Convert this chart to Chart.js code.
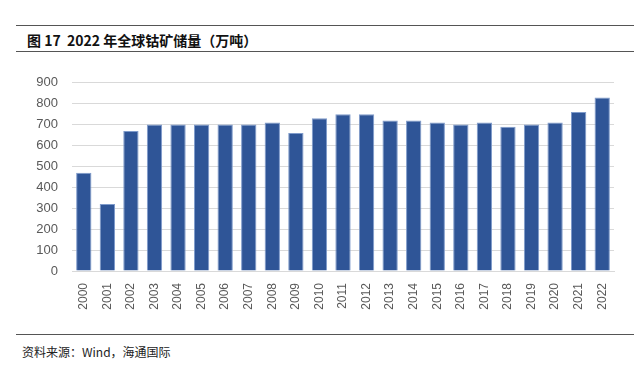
<!DOCTYPE html>
<html>
<head>
<meta charset="utf-8">
<script src="https://cdn.jsdelivr.net/npm/chart.js@4/dist/chart.umd.min.js"></script>
<style>
  body { margin: 0; background: #fff; font-family: "Noto Sans CJK SC", "Noto Sans", sans-serif; }
  #wrap { position: relative; width: 634px; height: 366px; overflow: hidden; }
  .rule { position: absolute; left: 16px; right: 0; height: 0; border-top: 1px solid #555; }
  #title { position: absolute; left: 27px; top: 30px; font-size: 14px; font-weight: bold; color: #111; }
  #src { position: absolute; left: 22px; top: 343px; font-size: 12px; color: #222; }
  #box { position: absolute; left: 0; top: 61px; width: 634px; height: 270px; }
</style>
</head>
<body>
<div id="wrap">
  <div class="rule" style="top:25px"></div>
  <div id="title">图 17&nbsp; 2022 年全球钴矿储量（万吨）</div>
  <div class="rule" style="top:51px"></div>
  <div id="box"><canvas id="reserves"></canvas></div>
  <div class="rule" style="top:334px"></div>
  <div id="src">资料来源：Wind，海通国际</div>
</div>
<script>
// years and reserve values (万吨)
var years = ['2000','2001','2002','2003','2004','2005','2006','2007','2008','2009','2010','2011',
             '2012','2013','2014','2015','2016','2017','2018','2019','2020','2021','2022'];
var reserves = [470, 320, 670, 700, 700, 700, 700, 700, 710, 660, 730, 750,
                750, 720, 720, 710, 700, 710, 690, 700, 710, 760, 830];
var yTicks = [0, 100, 200, 300, 400, 500, 600, 700, 800, 900];

var chart = new Chart('reserves', {
  type: 'bar',
  data: {
    labels: years,
    datasets: [{
      data: reserves,
      backgroundColor: '#2f5597',
      borderColor: '#7f9bcb',
      borderWidth: 1,
      categoryPercentage: 1,
      barPercentage: 0.65
    }]
  },
  options: {
    responsive: true,
    maintainAspectRatio: false,
    animation: false,
    layout: { padding: { top: 21, right: 20, bottom: 0, left: 0 } },
    plugins: { legend: { display: false }, tooltip: { enabled: false } },
    scales: {
      x: {
        grid: { display: false },
        border: { color: '#d9d9d9' },
        ticks: {
          color: '#595959',
          font: { family: 'Liberation Sans, DejaVu Sans', size: 12 },
          maxRotation: 90,
          minRotation: 90,
          padding: 4
        },
        afterFit: function(s) { s.height = 60; }
      },
      y: {
        min: 0,
        max: 900,
        afterBuildTicks: function(s) { s.ticks = yTicks.map(function(v) { return { value: v }; }); },
        grid: { color: '#d9d9d9', drawTicks: false },
        border: { display: false },
        ticks: {
          color: '#595959',
          font: { family: 'Liberation Sans, DejaVu Sans', size: 13 },
          padding: 14
        },
        afterFit: function(s) { s.width = 72; }
      }
    }
  }
});
</script>
</body>
</html>
